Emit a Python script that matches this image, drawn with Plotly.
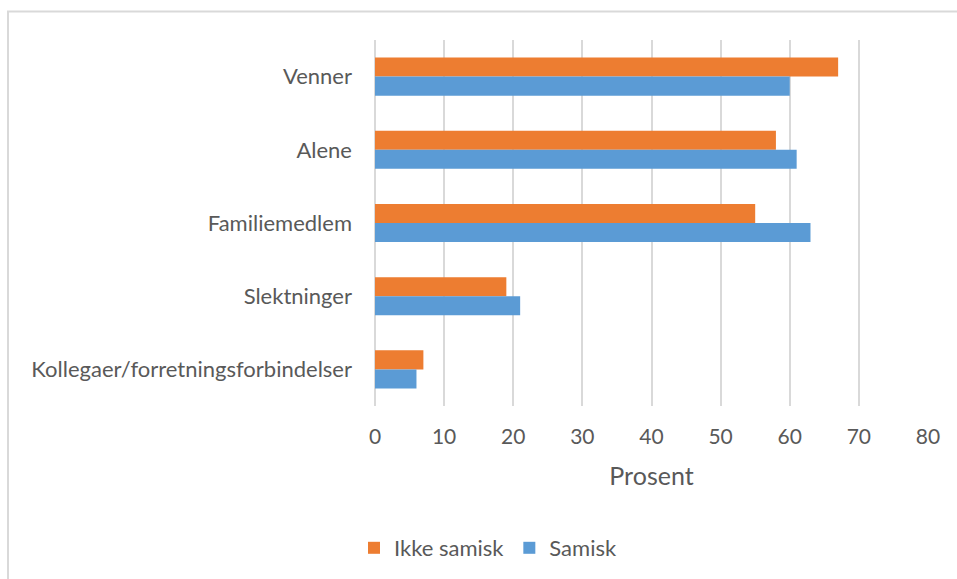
import plotly.graph_objects as go

categories = ["Venner", "Alene", "Familiemedlem", "Slektninger", "Kollegaer/forretningsforbindelser"]
ikke_samisk = [67, 58, 55, 19, 7]
samisk = [60, 61, 63, 21, 6]
x_ticks = [0, 10, 20, 30, 40, 50, 60, 70, 80]

FONT = "Lato"
GREY = "#595959"

fig = go.Figure()
fig.add_trace(go.Bar(y=categories, x=ikke_samisk, orientation="h", name="Ikke samisk",
                     marker=dict(color="#ED7D31", line=dict(width=0))))
fig.add_trace(go.Bar(y=categories, x=samisk, orientation="h", name="Samisk",
                     marker=dict(color="#5B9BD5", line=dict(width=0))))

W, H = 957, 579
L, R, T, B = 375, 29, 40, 172
pw, ph = W - L - R, H - T - B

def px(x):
    return (x - L) / pw

def py(y):
    return (H - B - y) / ph

fig.update_layout(
    width=W, height=H,
    margin=dict(l=L, r=R, t=T, b=B),
    paper_bgcolor="white", plot_bgcolor="white",
    barmode="group", bargap=0.48, bargroupgap=0,
    font=dict(family=FONT, color=GREY, size=22),
    xaxis=dict(range=[0, 80], tickvals=x_ticks, showgrid=True, gridcolor="#d9d9d9", gridwidth=2,
               zeroline=True, zerolinecolor="#d9d9d9", zerolinewidth=2, showline=False,
               ticks="", tickfont=dict(size=21, color=GREY), ticklabelstandoff=16,
               title=dict(text="Prosent", font=dict(size=25, color=GREY), standoff=20)),
    yaxis=dict(autorange="reversed", ticks="", showgrid=False, tickfont=dict(size=22, color=GREY),
               ticklabelstandoff=22),
    legend=dict(orientation="h", x=px(488), xanchor="center", y=py(548), yanchor="middle",
                font=dict(size=22, color=GREY), itemwidth=30, traceorder="normal"),
    shapes=[dict(type="rect", xref="paper", yref="paper",
                 x0=px(8), x1=px(1000), y0=py(620), y1=py(11.5),
                 line=dict(color="#d9d9d9", width=2), fillcolor="rgba(0,0,0,0)", layer="below")],
)

fig.write_html("out.html", config={"displayModeBar": False},
               post_script="document.body.style.margin='0';document.body.style.overflow='hidden';")
